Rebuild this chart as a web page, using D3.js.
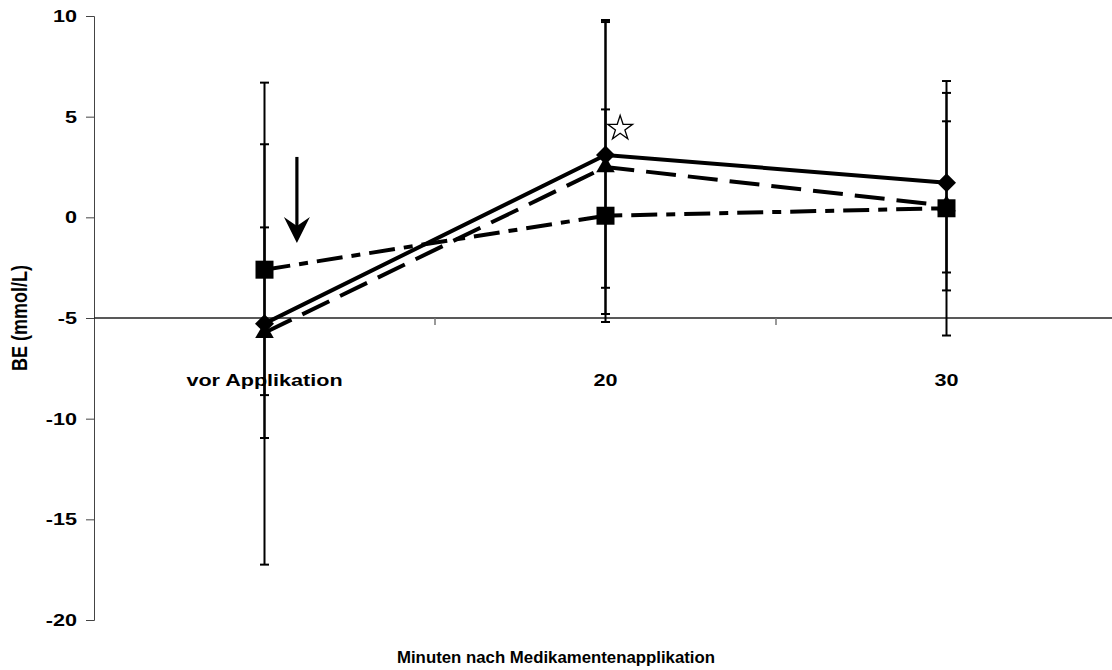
<!DOCTYPE html>
<html>
<head>
<meta charset="utf-8">
<script src="https://cdn.jsdelivr.net/npm/d3@7/dist/d3.min.js"></script>
<style>
  html, body { margin: 0; padding: 0; background: #fff; }
  svg { display: block; }
  text { font-family: "Liberation Sans", Arial, sans-serif; font-weight: bold; fill: #000; }
</style>
</head>
<body>
<svg id="chart" width="1112" height="670"></svg>
<script>
// ---- data ----
const categories = ["vor Applikation", "20", "30"];
const yTicks = [-20, -15, -10, -5, 0, 5, 10];

const diamondMean = [-5.28, 3.1, 1.72];
const diamondSD   = [11.97, 6.6, 4.46];
const triangleMean = [-5.73, 2.5, 0.57];
const triangleSD   = [5.23, 7.3, 4.2];
const squareMean = [-2.6, 0.08, 0.45];
const squareSD   = [6.23, 5.28, 6.32];

// annotations (data units)
const arrowCategory = "vor Applikation", arrowShift = 0.095, arrowFrom = 3.0, arrowTo = -1.28;
const starCategory = "20", starShift = 0.043, starValue = 4.42;

const yTitle = "BE (mmol/L)";
const xTitle = "Minuten nach Medikamentenapplikation";

// ---- layout ----
const svg = d3.select("#chart");
const pL = 94, pR = 1117, pT = 16, pB = 620, crossAt = -5;
const stretch = 1.27; // text in the reference is horizontally widened

const y = d3.scaleLinear().domain([-20, 10]).range([pB, pT]);
const x = d3.scalePoint().domain(categories).range([pL, pR]).padding(0.5);
const band = d3.scaleBand().domain(categories).range([pL, pR]).padding(0);

// y axis
const yAxis = d3.axisLeft(y).tickValues(yTicks).tickSize(8).tickPadding(9).tickFormat(d => String(d));
const gy = svg.append("g").attr("transform", `translate(${pL},0)`).call(yAxis);
gy.select(".domain").attr("stroke", "#444").attr("stroke-width", 1);
gy.selectAll(".tick line").attr("stroke", "#444");
gy.selectAll(".tick text")
  .attr("x", 0).attr("transform", `translate(-17,0) scale(${stretch},1)`)
  .style("font-size", "17px").style("font-weight", "bold")
  .style("font-family", '"Liberation Sans", Arial, sans-serif').attr("fill", "#000");

// x axis (crosses at -5)
const y0 = y(crossAt);
svg.append("line").attr("x1", pL).attr("x2", pR).attr("y1", y0).attr("y2", y0)
  .attr("stroke", "#222").attr("stroke-width", 1.5);
svg.selectAll(".xtick").data(categories.slice(1)).enter().append("line")
  .attr("x1", d => band(d)).attr("x2", d => band(d))
  .attr("y1", y0).attr("y2", y0 + 7).attr("stroke", "#777").attr("stroke-width", 1.5);
svg.selectAll(".xlab").data(categories).enter().append("text")
  .attr("transform", d => `translate(${x(d)},${y0 + 68}) scale(${stretch},1)`)
  .attr("text-anchor", "middle")
  .style("font-size", "17px").text(d => d);

// titles
svg.append("text").attr("transform", `translate(27,${y0}) rotate(-90) scale(1,1.2)`)
  .attr("text-anchor", "middle").style("font-size", "18px").text(yTitle);
svg.append("text").attr("transform", `translate(556,663) scale(1.05,1)`).attr("text-anchor", "middle")
  .style("font-size", "16px").text(xTitle);

// series
const series = [
  { name: "diamond", mean: diamondMean, sd: diamondSD, dash: null, symbol: "diamond" },
  { name: "triangle", mean: triangleMean, sd: triangleSD, dash: "30,12", symbol: "triangle" },
  { name: "square", mean: squareMean, sd: squareSD, dash: "26,9,9,9", symbol: "square" }
];

// error bars
series.forEach(s => {
  const g = svg.append("g");
  categories.forEach((c, i) => {
    const hi = s.mean[i] + s.sd[i], lo = s.mean[i] - s.sd[i];
    g.append("line").attr("x1", x(c)).attr("x2", x(c)).attr("y1", y(hi)).attr("y2", y(lo))
      .attr("stroke", "#000").attr("stroke-width", 2);
    [hi, lo].forEach(v => g.append("line").attr("x1", x(c) - 4.5).attr("x2", x(c) + 4.5)
      .attr("y1", y(v)).attr("y2", y(v)).attr("stroke", "#000").attr("stroke-width", 2));
  });
});

// lines
const line = d3.line().x(d => x(d.c)).y(d => y(d.v));
series.slice().reverse().forEach(s => {
  const pts = categories.map((c, i) => ({ c, v: s.mean[i] }));
  svg.append("path").attr("d", line(pts)).attr("fill", "none").attr("stroke", "#000")
    .attr("stroke-width", 4).attr("stroke-dasharray", s.dash);
});

// markers
const symGen = {
  diamond: d3.symbol().type(d3.symbolSquare).size(180),
  triangle: d3.symbol().type(d3.symbolTriangle).size(150),
  square: d3.symbol().type(d3.symbolSquare).size(324)
};
series.slice().reverse().forEach(s => {
  categories.forEach((c, i) => {
    svg.append("path").attr("d", symGen[s.symbol]())
      .attr("transform", `translate(${x(c)},${y(s.mean[i])})` + (s.symbol === "diamond" ? " rotate(45)" : ""))
      .attr("fill", "#000");
  });
});

// arrow annotation
const ax = x(arrowCategory) + arrowShift * x.step();
const ayTop = y(arrowFrom), ayTip = y(arrowTo);
svg.append("line").attr("x1", ax).attr("x2", ax).attr("y1", ayTop).attr("y2", ayTip - 16)
  .attr("stroke", "#000").attr("stroke-width", 3.2);
svg.append("path")
  .attr("d", `M${ax},${ayTip} L${ax - 13},${ayTip - 26} L${ax},${ayTip - 17} L${ax + 13},${ayTip - 26} Z`)
  .attr("fill", "#000");

// star annotation
svg.append("path").attr("d", d3.symbol().type(d3.symbolStar).size(190)())
  .attr("transform", `translate(${x(starCategory) + starShift * x.step()},${y(starValue)})`)
  .attr("fill", "#fff").attr("stroke", "#000").attr("stroke-width", 1.3);
</script>
</body>
</html>
